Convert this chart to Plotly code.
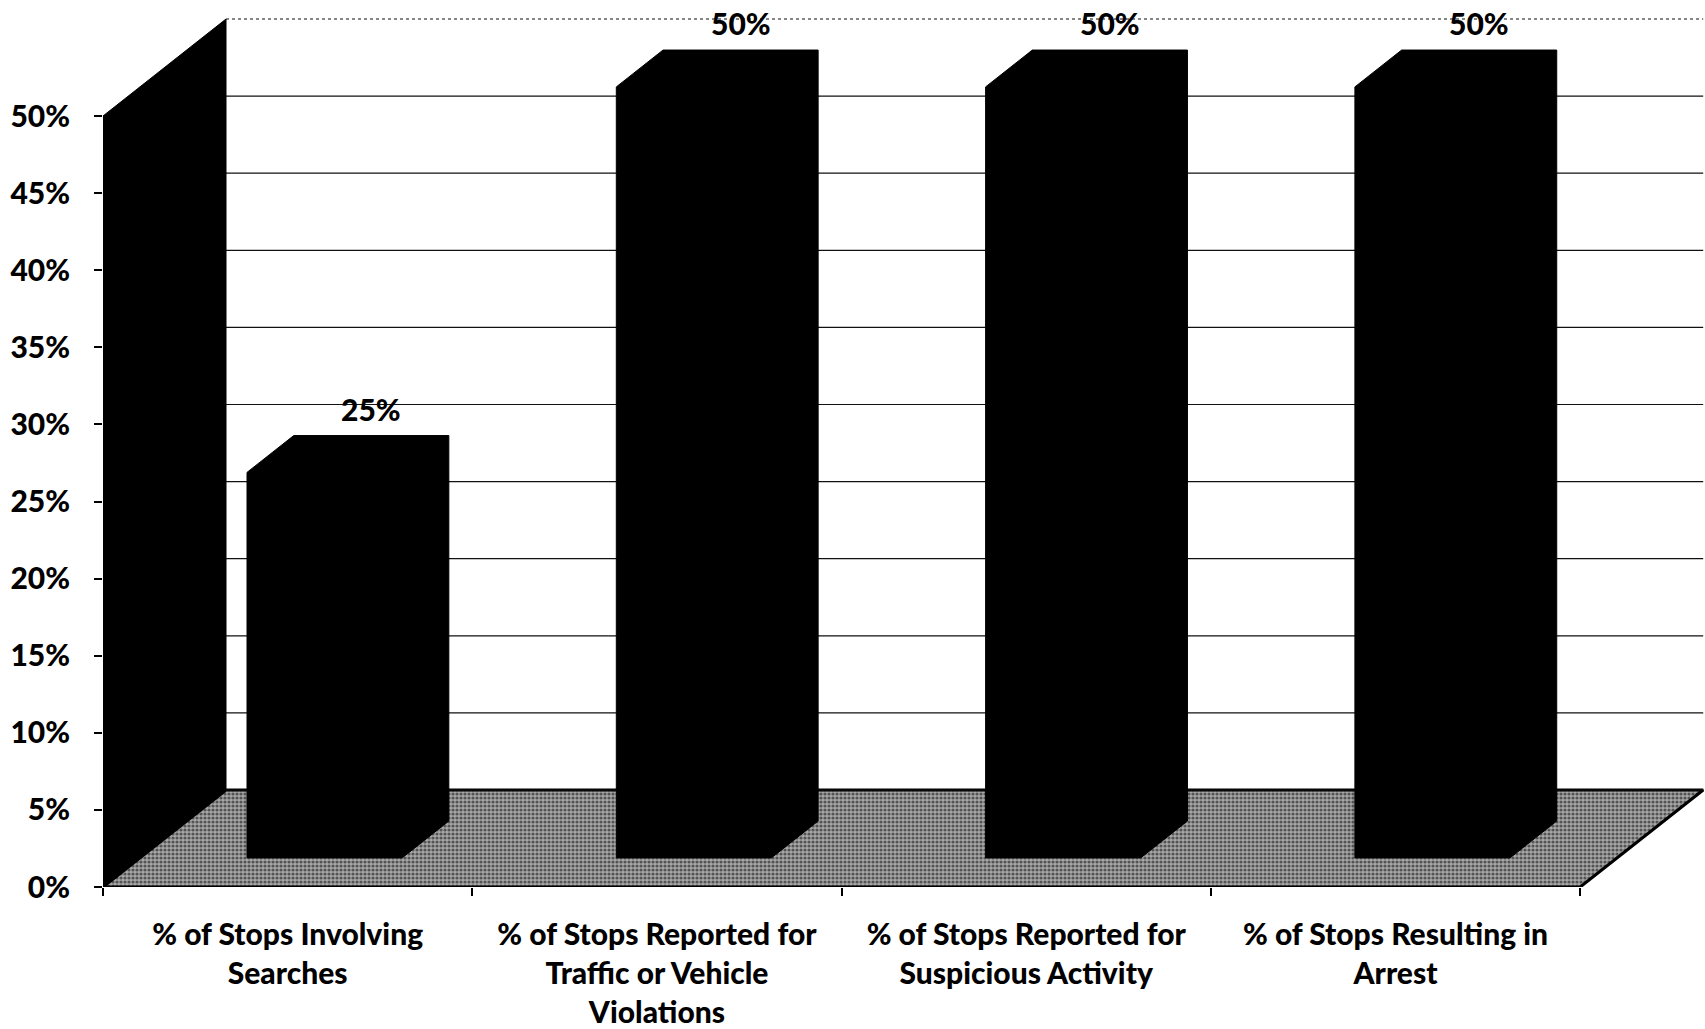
import plotly.graph_objects as go

# ---------------- data ----------------
categories = [
    "% of Stops Involving<br>Searches",
    "% of Stops Reported for<br>Traffic or Vehicle<br>Violations",
    "% of Stops Reported for<br>Suspicious Activity",
    "% of Stops Resulting in<br>Arrest",
]
values = [25, 50, 50, 50]
y_tick_values = [0, 5, 10, 15, 20, 25, 30, 35, 40, 45, 50]
y_tick_labels = ["0%", "5%", "10%", "15%", "20%", "25%", "30%", "35%", "40%", "45%", "50%"]

# ---------------- layout geometry ----------------
W, H = 1705, 1029
LEFT = 103            # pixel of front-left corner (axis)
BASE = 887            # pixel of 0% on front plane
PX_PER_PCT = 15.42
PX_PER_CAT = 369.3
DX = 123 / PX_PER_CAT     # depth shift in category units
DY = 97 / PX_PER_PCT      # depth shift in percent units
D0, D1 = 0.30, 0.68       # bar depth span (fraction of floor depth)
BAR_W = 0.42

n = len(categories)
ymax_axis = y_tick_values[-1]
x_range = [0, (W - LEFT) / PX_PER_CAT]
y_range = [0, BASE / PX_PER_PCT]

FONT = dict(family="Lato", size=30, color="black", weight=900)

fig = go.Figure()

# floor
fx = [0, n, n + DX, DX, 0]
fy = [0, 0, DY, DY, 0]
fig.add_trace(go.Scatter(
    x=fx, y=fy, mode="lines", fill="toself",
    fillcolor="#7a7a7a",
    fillpattern=dict(shape=".", fgcolor="#000000", bgcolor="#a8a8a8", size=4, solidity=0.5),
    line=dict(color="black", width=3), hoverinfo="skip", showlegend=False))

# back-wall gridlines
for v in y_tick_values:
    fig.add_trace(go.Scatter(
        x=[DX, n + DX], y=[v + DY, v + DY], mode="lines",
        line=dict(color="#111111", width=1.2, dash="dot" if v == ymax_axis else "solid"),
        hoverinfo="skip", showlegend=False))

# left side wall
wx = [0, 0, DX, DX, 0]
wy = [0, ymax_axis, ymax_axis + DY, DY, 0]
fig.add_trace(go.Scatter(
    x=wx, y=wy, mode="lines", fill="toself", fillcolor="black",
    line=dict(color="black", width=1), hoverinfo="skip", showlegend=False))

# 3D bars (oblique projection)
for i, v in enumerate(values):
    c = i + 0.5
    x0, x1 = c - BAR_W / 2, c + BAR_W / 2
    o0x, o0y = D0 * DX, D0 * DY
    o1x, o1y = D1 * DX, D1 * DY
    bx = [x0 + o0x, x0 + o0x, x0 + o1x, x1 + o1x, x1 + o1x, x1 + o0x, x0 + o0x]
    by = [o0y, v + o0y, v + o1y, v + o1y, o1y, o0y, o0y]
    fig.add_trace(go.Scatter(
        x=bx, y=by, mode="lines", fill="toself", fillcolor="black",
        line=dict(color="black", width=1), hoverinfo="skip", showlegend=False))
    fig.add_annotation(
        x=c + o1x, y=v + o1y, xref="x", yref="y", text=f"{v}%",
        showarrow=False, yanchor="middle", yshift=27, font=FONT)

fig.update_layout(
    width=W, height=H,
    margin=dict(l=LEFT, r=0, t=0, b=H - BASE),
    paper_bgcolor="white", plot_bgcolor="white",
    showlegend=False,
    xaxis=dict(
        range=x_range, tickmode="array",
        tickvals=[i + 0.5 for i in range(n)], ticktext=categories,
        ticks="", showgrid=False, zeroline=False, showline=False,
        tickfont=FONT, ticklabelstandoff=27, fixedrange=True),
    xaxis2=dict(
        overlaying="x", matches="x", anchor="y", side="bottom",
        range=x_range, tickmode="array", tickvals=list(range(n + 1)),
        showticklabels=False, ticks="outside", ticklen=8, tickwidth=2, tickcolor="black",
        showgrid=False, zeroline=False, showline=False),
    yaxis=dict(
        range=y_range, tickmode="array", tickvals=y_tick_values, ticktext=y_tick_labels,
        ticks="outside", ticklen=8, tickwidth=2, tickcolor="black",
        showgrid=False, zeroline=False, showline=False,
        tickfont=FONT, ticklabelstandoff=18, fixedrange=True),
)
# dummy trace to activate xaxis2
fig.add_trace(go.Scatter(x=[0], y=[0], xaxis="x2", mode="markers",
                         marker=dict(opacity=0), hoverinfo="skip", showlegend=False))

fig.write_html("out.html")
